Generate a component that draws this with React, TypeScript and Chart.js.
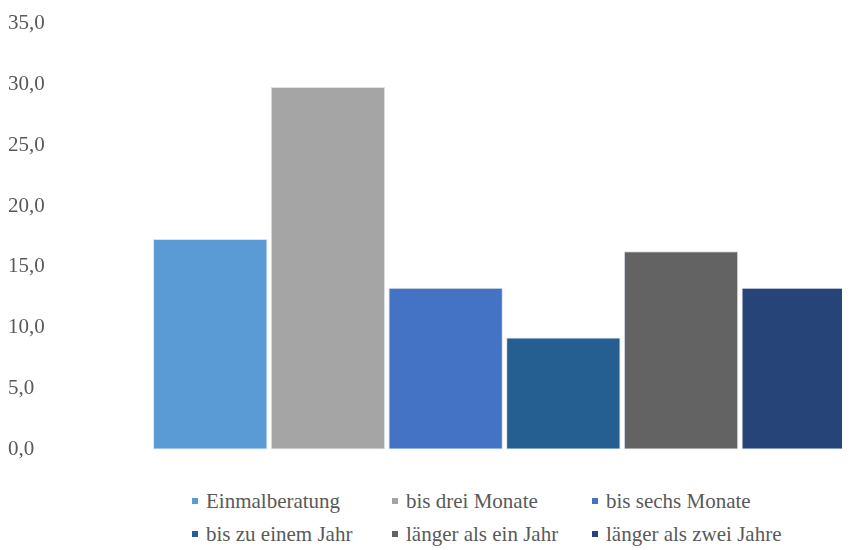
import React, { useEffect, useRef } from "react";
import { Chart, registerables } from "chart.js";

Chart.register(...registerables);

const categories = [""];
const seriesNames = [
  "Einmalberatung",
  "bis drei Monate",
  "bis sechs Monate",
  "bis zu einem Jahr",
  "länger als ein Jahr",
  "länger als zwei Jahre",
];
const seriesValues = [17.3, 29.8, 13.3, 9.2, 16.3, 13.3];
const seriesColors = ["#5B9BD5", "#A5A5A5", "#4472C4", "#255E91", "#636363", "#264478"];
const yMin = 0;
const yMax = 35;
const yStep = 5;

const FONT = '"Liberation Serif", "Times New Roman", serif';
const TEXT = "#595959";

export default function App() {
  const ref = useRef<HTMLCanvasElement | null>(null);

  useEffect(() => {
    if (!ref.current) return;
    const chart = new Chart(ref.current, {
      type: "bar",
      data: {
        labels: categories,
        datasets: seriesNames.map((name, i) => ({
          label: name,
          data: [seriesValues[i]],
          backgroundColor: seriesColors[i],
          borderColor: "#DCE1EE",
          borderWidth: 1,
          borderSkipped: false,
          categoryPercentage: 1.022,
          barPercentage: 0.972,
          clip: false,
        })),
      },
      options: {
        animation: false,
        responsive: true,
        maintainAspectRatio: false,
        layout: { padding: { top: 14.5, bottom: 28.5, left: 0, right: 0 } },
        plugins: {
          legend: { display: false },
          tooltip: { enabled: false },
        },
        scales: {
          x: {
            display: false,
            grid: { display: false },
          },
          y: {
            min: yMin,
            max: yMax,
            grid: { display: false },
            border: { display: false },
            afterFit: (s: any) => {
              s.width = 151;
            },
            ticks: {
              stepSize: yStep,
              crossAlign: "far",
              color: TEXT,
              font: { family: FONT, size: 21 },
              callback: (v: any) => Number(v).toFixed(1).replace(".", ","),
            },
          },
        },
      },
    });
    return () => chart.destroy();
  }, []);

  return (
    <div style={{ position: "relative", width: 842, height: 542, overflow: "hidden" }}>
      <div style={{ position: "absolute", left: 0, top: 0, width: 842, height: 470 }}>
        <canvas ref={ref} />
      </div>
      <div
        style={{
          position: "absolute",
          left: 184,
          top: 476,
          display: "grid",
          gridTemplateColumns: "200px 200px 220px",
          gridAutoRows: "33.5px",
          alignItems: "center",
          color: TEXT,
          fontFamily: FONT,
          fontSize: 21,
          lineHeight: "24px",
          whiteSpace: "nowrap",
        }}
      >
        {seriesNames.map((name, i) => (
          <div key={name} style={{ display: "flex", alignItems: "center" }}>
            <span
              style={{
                display: "inline-block",
                width: 6,
                height: 6,
                background: seriesColors[i],
                marginRight: 8,
                flex: "0 0 auto",
              }}
            />
            <span>{name}</span>
          </div>
        ))}
      </div>
    </div>
  );
}
